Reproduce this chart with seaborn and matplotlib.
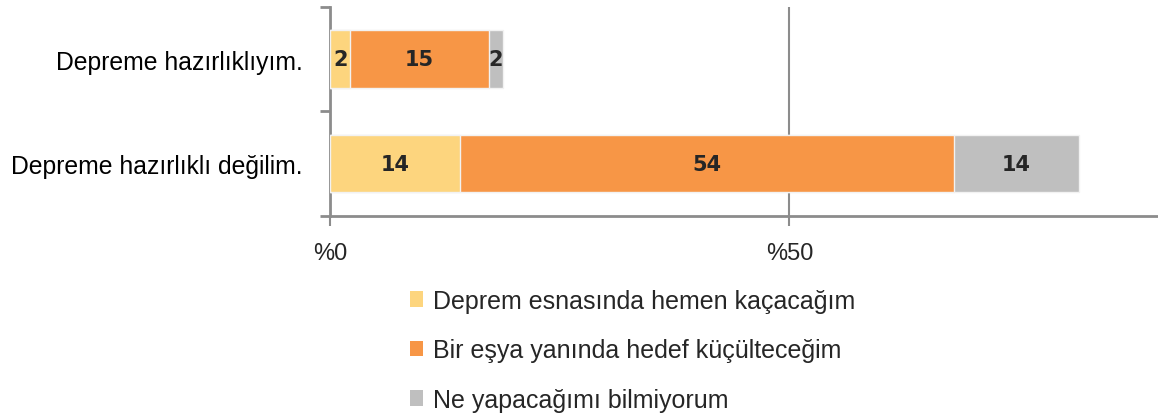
import numpy as np
import pandas as pd
import seaborn as sns
import matplotlib.pyplot as plt
from matplotlib.patches import Patch

# Data (percent)
categories = ['Depreme hazırlıklıyım.', 'Depreme hazırlıklı değilim.']
kacacagim = [2.2, 14.2]
kucultecegim = [15.1, 53.7]
bilmiyorum = [1.5, 13.6]
series_names = ['Deprem esnasında hemen kaçacağım',
                'Bir eşya yanında hedef küçülteceğim',
                'Ne yapacağımı bilmiyorum']
colors = ['#FDD57E', '#F79646', '#BFBFBF']
x_ticks = [0, 50]
x_labels = ['%0', '%50']

df = pd.DataFrame({'Kategori': categories,
                   's1': kacacagim, 's2': kucultecegim, 's3': bilmiyorum})
df['c1'] = df['s1']
df['c2'] = df['s1'] + df['s2']
df['c3'] = df['c2'] + df['s3']

sns.set_style('white')
plt.rcParams['font.family'] = ['Liberation Sans', 'DejaVu Sans']

fig = plt.figure(figsize=(11.58, 4.14), dpi=100)
ax = fig.add_axes([0.285, 0.476, 0.714, 0.505])

# stacked bars drawn as overlapping cumulative totals
for col, c in zip(['c3', 'c2', 'c1'], colors[::-1]):
    sns.barplot(data=df, x=col, y='Kategori', color=c, width=0.55,
                edgecolor='#F2F2F2', linewidth=1, ax=ax, zorder=3, saturation=1)

# value labels in the middle of each segment
for i in range(len(df)):
    left = 0
    for s in ['s1', 's2', 's3']:
        v = df[s].iloc[i]
        ax.text(left + v / 2, i, f'{v:.0f}', ha='center', va='center',
                fontsize=15, fontweight='heavy', color='#262626',
                family='DejaVu Sans', zorder=4)
        left += v

ax.set_xlim(0, 90)
ax.set_ylim(1.5, -0.5)
ax.set_xticks(x_ticks)
ax.set_xticklabels(x_labels, fontsize=17, color='#262626')
ax.set_yticks([-0.5, 0.5, 1.5], minor=True)
ax.set_yticks([0, 1])
ax.set_yticklabels(categories, fontsize=17.8, color='#000000')
ax.tick_params(axis='y', which='major', left=True, length=0, pad=19.5)
ax.tick_params(axis='y', which='minor', left=True, length=7, width=2, color='#8C8C8C')
ax.tick_params(axis='x', bottom=True, length=7, width=1.5, color='#8C8C8C', pad=12)
ax.set_xlabel('')
ax.set_ylabel('')

ax.grid(axis='x', color='#8C8C8C', linewidth=1.5, zorder=0)
ax.grid(axis='y', visible=False)
for side in ['top', 'right']:
    ax.spines[side].set_visible(False)
for side in ['left', 'bottom']:
    ax.spines[side].set_color('#8C8C8C')
    ax.spines[side].set_linewidth(2)

handles = [Patch(facecolor=c, edgecolor='none') for c in colors]
fig.legend(handles, series_names, loc='upper left', bbox_to_anchor=(0.345, 0.324),
           frameon=False, fontsize=18, handlelength=0.55, handleheight=0.55,
           handletextpad=0.4, labelspacing=1.02, borderaxespad=0)

fig.savefig('out.png', dpi=100)
